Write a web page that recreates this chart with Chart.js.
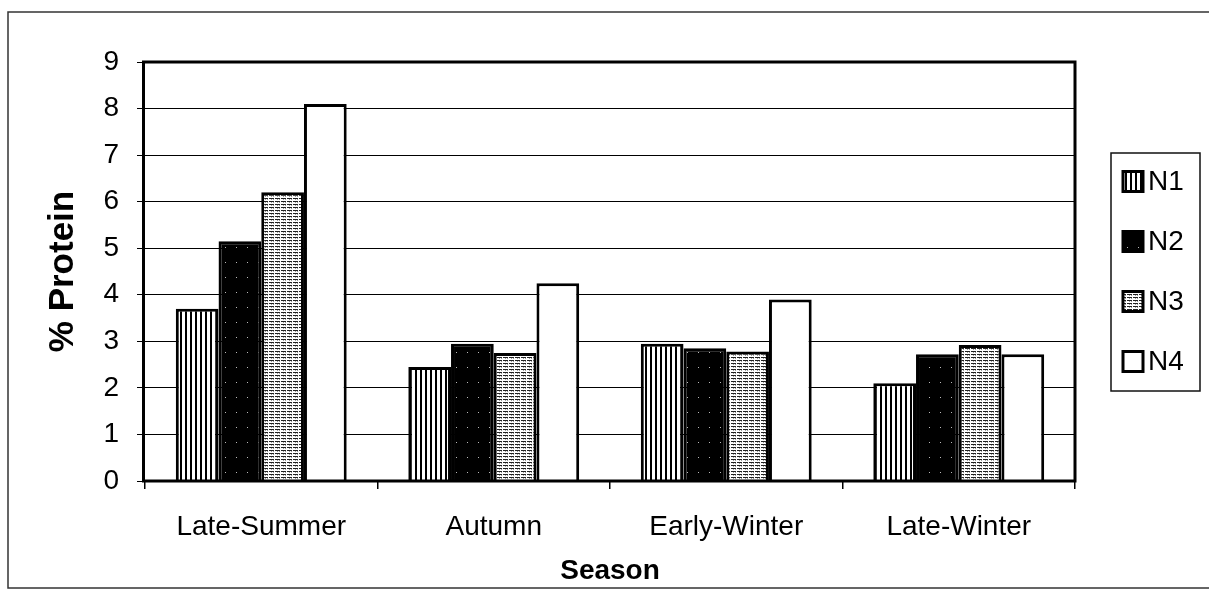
<!DOCTYPE html>
<html>
<head>
<meta charset="utf-8">
<script src="https://cdn.jsdelivr.net/npm/chart.js@4.4.0/dist/chart.umd.min.js"></script>
<style>
html, body { margin: 0; padding: 0; background: #fff; }
</style>
</head>
<body>
<canvas id="c" width="1209" height="592"></canvas>
<script>
// values
var seasons = ['Late-Summer', 'Autumn', 'Early-Winter', 'Late-Winter']
var seriesNames = ['N1', 'N2', 'N3', 'N4']
var n1 = [3.7, 2.45, 2.95, 2.1]
var n2 = [5.15, 2.95, 2.85, 2.72]
var n3 = [6.2, 2.75, 2.78, 2.92]
var n4 = [8.1, 4.25, 3.9, 2.72]
var yMin = 0, yMax = 9, yStep = 1

var FONT = '"Liberation Sans", Arial, sans-serif'

// hatch fills like the old excel print
function tile(w, h, draw) {
	var c = document.createElement('canvas')
	c.width = w; c.height = h
	var g = c.getContext('2d')
	draw(g)
	return g.createPattern(c, 'repeat')
}

var fills = [
	tile(5, 4, function (g) {
		g.fillStyle = '#fff'; g.fillRect(0, 0, 5, 4)
		g.fillStyle = '#000'; g.fillRect(0, 0, 2, 4)
	}),
	tile(11, 15, function (g) {
		g.fillStyle = '#000'; g.fillRect(0, 0, 11, 15)
		g.fillStyle = '#bbb'; g.fillRect(5, 7, 1, 1)
	}),
	tile(6, 3, function (g) {
		g.fillStyle = '#fff'; g.fillRect(0, 0, 6, 3)
		g.fillStyle = '#222'; g.fillRect(0, 0, 6, 1)
		g.fillStyle = '#fff'; g.fillRect(4, 0, 1, 1)
		g.fillStyle = '#999'; g.fillRect(1, 1, 1, 1); g.fillRect(3, 1, 1, 1)
	}),
	'#fff'
]

var framePlugin = {
	id: 'frame',
	beforeDraw: function (chart) {
		var g = chart.ctx
		g.save()
		g.fillStyle = '#fff'
		g.fillRect(0, 0, chart.width, chart.height)
		g.restore()
	},
	afterDraw: function (chart) {
		var g = chart.ctx, a = chart.chartArea
		g.save()
		// plot area box
		g.strokeStyle = '#000'
		g.lineWidth = 3
		g.strokeRect(a.left - 1.5, a.top, a.right - a.left + 1.5, a.bottom - a.top)
		// outer chart border
		g.strokeStyle = '#333'
		g.lineWidth = 1.5
		g.strokeRect(8, 12, chart.width + 10, chart.height - 16)
		// legend
		var lx = 1111, top = 153, bot = 391
		g.strokeStyle = '#111'
		g.lineWidth = 1.5
		g.strokeRect(lx, top, 89, bot - top)
		var mid = (a.top + a.bottom) / 2
		g.font = '28px ' + FONT
		g.textBaseline = 'middle'
		g.textAlign = 'left'
		chart.data.datasets.forEach(function (ds, i) {
			var cy = mid + (i - 1.5) * 60
			g.fillStyle = ds.backgroundColor
			g.fillRect(1123, cy - 10, 20, 20)
			g.strokeStyle = '#000'
			g.lineWidth = 3
			g.strokeRect(1123, cy - 10, 20, 20)
			g.fillStyle = '#000'
			g.fillText(ds.label, 1148, cy + 1)
		})
		g.restore()
	}
}

var series = [n1, n2, n3, n4]
var datasets = series.map(function (vals, i) {
	return {
		label: seriesNames[i],
		data: vals,
		backgroundColor: fills[i],
		borderColor: '#000',
		borderWidth: 3,
		borderSkipped: 'start'
	}
})

new Chart(document.getElementById('c'), {
	type: 'bar',
	data: { labels: seasons, datasets: datasets },
	options: {
		responsive: false,
		animation: false,
		layout: { padding: { top: 62, right: 134, left: 0, bottom: 0 } },
		datasets: { bar: { categoryPercentage: 0.735, barPercentage: 1 } },
		plugins: { legend: { display: false }, tooltip: { enabled: false } },
		scales: {
			x: {
				grid: { drawOnChartArea: false, tickLength: 8, color: '#000', lineWidth: 1.5, offset: true },
				border: { display: false },
				ticks: { font: { family: FONT, size: 28 }, color: '#000', padding: 21, maxRotation: 0, autoSkip: false },
				title: { display: true, text: 'Season', color: '#000', font: { family: FONT, size: 28, weight: 'bold' }, padding: { top: 0, bottom: 4 } },
				afterFit: function (s) { s.height = 111 }
			},
			y: {
				min: yMin, max: yMax,
				ticks: { stepSize: yStep, font: { family: FONT, size: 28 }, color: '#000', padding: 18 },
				grid: { color: '#000', lineWidth: 1, tickLength: 8 },
				border: { display: false },
				title: { display: true, text: '% Protein', color: '#000', font: { family: FONT, size: 35, weight: 'bold' }, padding: { top: 42, bottom: 0 } },
				afterFit: function (s) { s.width = 145 }
			}
		}
	},
	plugins: [framePlugin]
})
</script>
</body>
</html>
